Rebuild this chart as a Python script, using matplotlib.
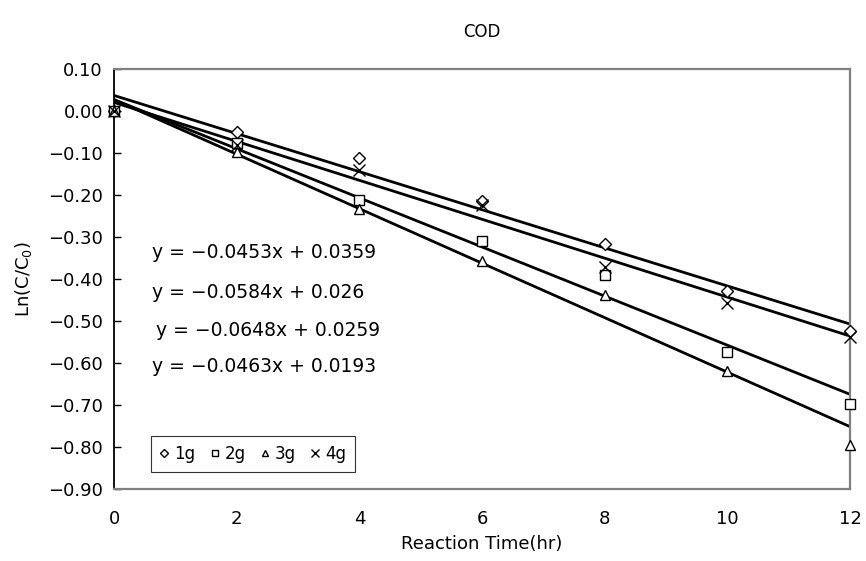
import numpy as np
import matplotlib.pyplot as plt
from matplotlib.ticker import FuncFormatter

plt.rcParams['font.family'] = ['DejaVu Sans']

# reaction time (hr)
hours = [0, 2, 4, 6, 8, 10, 12]

# Ln(C/C0) for each catalyst dose
ln_1g = [0.0, -0.050, -0.114, -0.214, -0.317, -0.429, -0.524]
ln_2g = [0.0, -0.078, -0.213, -0.311, -0.391, -0.574, -0.698]
ln_3g = [0.0, -0.098, -0.233, -0.357, -0.438, -0.619, -0.795]
ln_4g = [0.0, -0.082, -0.141, -0.225, -0.371, -0.457, -0.538]

labels = ['1g', '2g', '3g', '4g']
slopes = [-0.0453, -0.0584, -0.0648, -0.0463]
intercepts = [0.0359, 0.026, 0.0259, 0.0193]

series = [ln_1g, ln_2g, ln_3g, ln_4g]
markers = ['D', 's', '^', 'x']
msizes = [6, 7, 7, 8]


def fmt_tick(v, pos):
    s = '%.2f' % (0.0 if abs(v) < 1e-9 else v)
    return s.replace('-', '\u2212')


fig = plt.figure(figsize=(8.66, 5.61), dpi=100)
ax = fig.add_axes([114 / 866, 1 - 489 / 561, (850 - 114) / 866, (489 - 68.5) / 561])

xfit = np.array([0, 12])
for m, b in zip(slopes, intercepts):
    ax.plot(xfit, m * xfit + b, color='black', lw=2.0, zorder=2)

handles = []
for vals, mk, ms, lab in zip(series, markers, msizes, labels):
    h, = ax.plot(hours, vals, linestyle='none', marker=mk, markersize=ms,
                 markerfacecolor='white' if mk != 'x' else 'black',
                 markeredgecolor='black', markeredgewidth=1.0,
                 label=lab, zorder=3, clip_on=False)
    handles.append(h)

ax.set_xlim(0, 12)
ax.set_ylim(-0.9, 0.1)
ax.set_xticks(range(0, 13, 2))
ax.set_yticks(np.arange(-0.9, 0.101, 0.1))
ax.yaxis.set_major_formatter(FuncFormatter(fmt_tick))
ax.tick_params(axis='y', direction='in', length=5, width=1, labelsize=13, pad=8)
ax.tick_params(axis='x', length=0, labelsize=13, pad=15)

for side in ['top', 'right', 'bottom']:
    ax.spines[side].set_color('#808080')
    ax.spines[side].set_linewidth(1.6)
ax.spines['left'].set_color('black')
ax.spines['left'].set_linewidth(1.3)

ax.set_xlabel('Reaction Time(hr)', fontsize=13, labelpad=5)
ax.set_ylabel('Ln(C/C$_\\mathregular{0}$)', fontsize=13, labelpad=10)
fig.text(482 / 866, 1 - 32 / 561, 'COD', ha='center', va='center', fontsize=12)

# fitted equations
eq_pos = [(152, 253), (152, 292), (156, 330), (152, 367)]
for (px, py), m, b in zip(eq_pos, slopes, intercepts):
    txt = f'y = \u2212{abs(m):g}x + {b:g}'
    fig.text(px / 866, 1 - py / 561, txt, ha='left', va='center', fontsize=13.5)

leg = ax.legend(handles=handles, loc='lower left',
                bbox_to_anchor=((151 - 114) / 736, (489 - 472) / 420.5),
                ncol=4, frameon=True, fancybox=False, fontsize=12,
                handlelength=0.5, handletextpad=0.35, columnspacing=0.9,
                markerscale=0.7, borderpad=0.55, borderaxespad=0)
leg.get_frame().set_edgecolor('black')
leg.get_frame().set_linewidth(0.8)

fig.savefig('out.png', dpi=100)
